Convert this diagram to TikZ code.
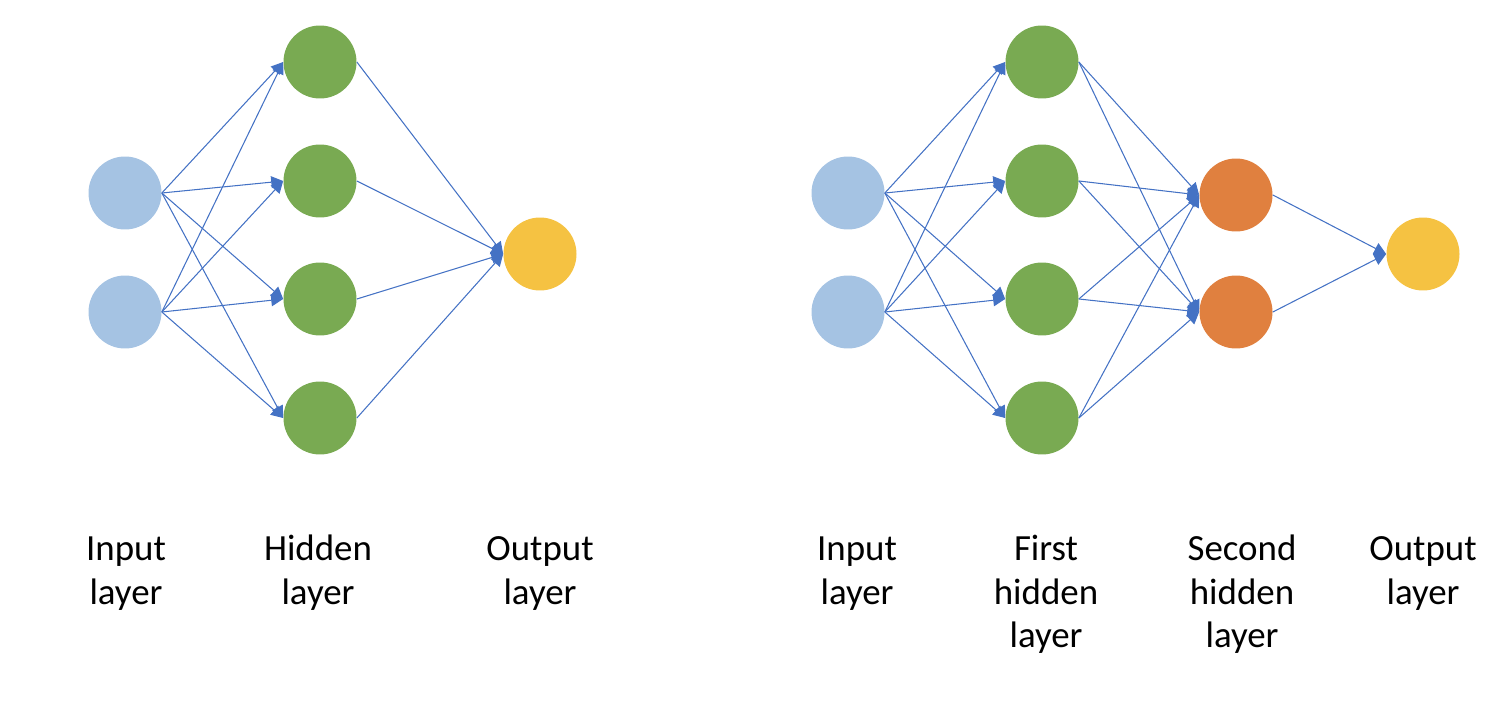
\documentclass[tikz,border=0pt]{standalone}
\usepackage{fontspec}
\setmainfont{Carlito}
\usetikzlibrary{arrows.meta}

\definecolor{InBlue}{HTML}{A5C3E3}
\definecolor{HidGreen}{HTML}{79AA52}
\definecolor{SecOrange}{HTML}{E0803F}
\definecolor{OutGold}{HTML}{F5C242}
\definecolor{LinkBlue}{HTML}{4472C4}

\begin{document}
\begin{tikzpicture}[x=0.02cm, y=-0.02cm]
			\tikzstyle{Neuron}	= [circle, minimum size=1.46cm, inner sep=0pt]
			\tikzstyle{INP}		= [Neuron, fill=InBlue]
			\tikzstyle{HID}		= [Neuron, fill=HidGreen]
			\tikzstyle{SEC}		= [Neuron, fill=SecOrange]
			\tikzstyle{OUTP}	= [Neuron, fill=OutGold]
			\tikzstyle{Link}	= [-{Triangle[length=6.8pt, width=6.8pt]}, draw=LinkBlue, line width=0.6pt]
			\tikzstyle{Caption}	= [align=center, anchor=north, inner sep=0pt, font=\fontsize{21}{25}\selectfont]

			\useasboundingbox (0,0) rectangle (1506,712);

			% left network
			\foreach \n/\y in {1/193, 2/312}
				\node (Li\n) at (125, \y) [INP] {};
			\foreach \n/\y in {1/62, 2/181, 3/299, 4/418}
				\node (Lh\n) at (320, \y) [HID] {};
			\node (Lo) at (540, 254) [OUTP] {};
			\foreach \a in {1,2}
				\foreach \b in {1,...,4}
					\draw [Link] (Li\a.east) to (Lh\b.west);
			\foreach \b in {1,...,4}
				\draw [Link] (Lh\b.east) to (Lo.west);

			% right network
			\foreach \n/\y in {1/193, 2/312}
				\node (Ri\n) at (848, \y) [INP] {};
			\foreach \n/\y in {1/62, 2/181, 3/299, 4/418}
				\node (Rh\n) at (1042, \y) [HID] {};
			\foreach \n/\y in {1/195, 2/312}
				\node (Rs\n) at (1236, \y) [SEC] {};
			\node (Ro) at (1423, 254) [OUTP] {};
			\foreach \a in {1,2}
				\foreach \b in {1,...,4}
					\draw [Link] (Ri\a.east) to (Rh\b.west);
			\foreach \a in {1,...,4}
				\foreach \b in {1,2}
					\draw [Link] (Rh\a.east) to (Rs\b.west);
			\foreach \a in {1,2}
				\draw [Link] (Rs\a.east) to (Ro.west);

			% captions
			\node (LiCap) at (126, 529) [Caption] {\strut Input\\layer};
			\node (LhCap) at (318, 529) [Caption] {\strut Hidden\\layer};
			\node (LoCap) at (540, 529) [Caption] {\strut Output\\layer};
			\node (RiCap) at (857, 529) [Caption] {\strut Input\\layer};
			\node (RhCap) at (1046, 529) [Caption] {\strut First\\hidden\\layer};
			\node (RsCap) at (1242, 529) [Caption] {\strut Second\\hidden\\layer};
			\node (RoCap) at (1423, 529) [Caption] {\strut Output\\layer};
		\end{tikzpicture}
\end{document}
